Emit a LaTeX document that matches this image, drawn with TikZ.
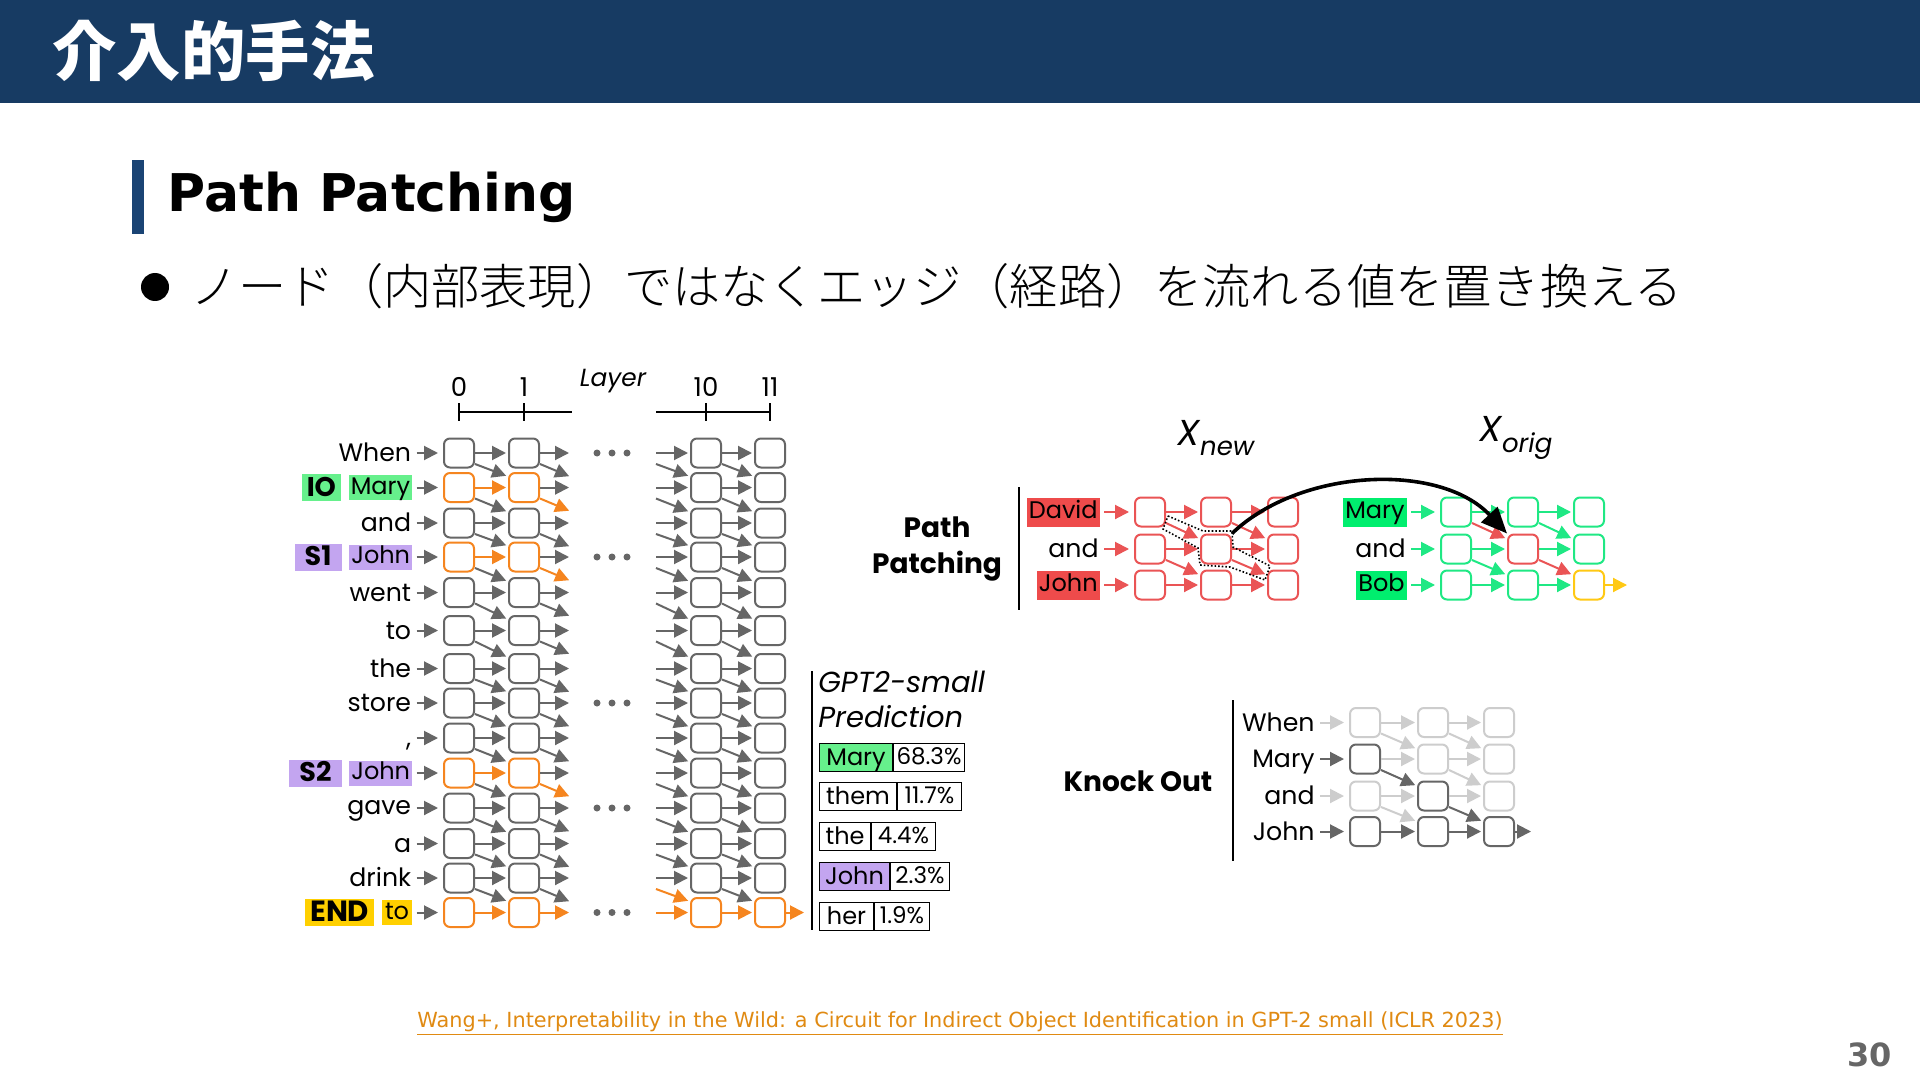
\documentclass[tikz,border=0pt]{standalone}
\usepackage{fontspec}
\setmainfont{Poppins}
\newfontfamily\cjkfont{Noto Sans CJK JP}
\newfontfamily\cjklight{Noto Sans CJK JP Light}
\newfontfamily\slidefont{DejaVu Sans}
\usetikzlibrary{arrows.meta,positioning}
\definecolor{barblue}{HTML}{173B63}
\definecolor{accentblue}{HTML}{1A4474}
\definecolor{netgray}{HTML}{666666}
\definecolor{netlight}{HTML}{CDCDCD}
\definecolor{netorange}{HTML}{F5851F}
\definecolor{netred}{HTML}{EA5455}
\definecolor{netgreen}{HTML}{1FE884}
\definecolor{netyellow}{HTML}{FFC914}
\definecolor{tintgreen}{HTML}{66F08C}
\definecolor{tintpurple}{HTML}{C3A5F0}
\definecolor{tintyellow}{HTML}{FFD000}
\definecolor{tintred}{HTML}{EE4B4B}
\definecolor{tintmint}{HTML}{00EE6E}
\definecolor{linkorange}{HTML}{E08A12}
\tikzset{
  cell/.style={draw=#1,rounded corners=3pt,minimum width=15pt,minimum height=14.5pt,inner sep=0pt,line width=1pt},
  flow/.style={draw=#1,line width=1pt,-{Triangle[length=7pt,width=7pt]},shorten >=1pt},
  word/.style={fill=#1,anchor=east,inner xsep=1pt,inner ysep=0pt,text height=9.5pt,text depth=3pt,font=\fontsize{12}{14}\selectfont},
  wordplain/.style={word=white,inner xsep=.5pt,text height=10.5pt,text depth=2pt,font=\fontsize{12.6}{14}\selectfont},
  wordhigh/.style={word=white,inner xsep=.5pt,font=\fontsize{12.6}{14}\selectfont},
  wordgreen/.style={word=tintgreen},
  wordpurple/.style={word=tintpurple},
  wordyellow/.style={word=tintyellow,inner xsep=1.5pt},
  wordred/.style={word=tintred,text height=10.5pt,text depth=4pt},
  wordmint/.style={word=tintmint,text height=10.5pt,text depth=4pt},
  tag/.style={fill=#1,inner xsep=2.5pt,inner ysep=0pt,text height=11pt,text depth=2.5pt,font=\fontsize{13.5}{15}\selectfont\bfseries},
  predname/.style={draw=black,line width=.5pt,fill=#1,inner sep=0pt,minimum height=14pt,text height=10pt,text depth=2pt,font=\fontsize{12}{14}\selectfont},
  predval/.style={draw=black,line width=.5pt,inner sep=0pt,minimum height=14pt,text height=8pt,text depth=1pt,font=\fontsize{11.5}{13}\selectfont},
  rowname/.style={font=\fontsize{14}{17.7}\selectfont\bfseries,align=center}
}
\begin{document}
\begin{tikzpicture}[x=0.5pt,y=-0.5pt]
\useasboundingbox (0,0) rectangle (1920,1080);
\fill[white] (0,0) rectangle (1920,1080);
\fill[barblue] (0,0) rectangle (1920,103);
\node[text=white,anchor=west,inner sep=0pt,font=\fontsize{32.2}{36}\selectfont\cjkfont\bfseries] (title) at (52,51) {介入的手法};
\fill[accentblue] (132,160) rectangle (144,234);
\node[anchor=west,inner sep=0pt,font=\fontsize{26}{32}\selectfont\slidefont\bfseries] (head) at (167,197) {Path Patching};
\fill (155,287) circle (14);
\node[anchor=west,inner sep=0pt,font=\fontsize{24.1}{28}\selectfont\cjklight] (bullet) at (190,286) {ノード（内部表現）ではなくエッジ（経路）を流れる値を置き換える};
\foreach \r/\y/\w/\wst/\hot/\last in {1/453/When/wordplain/netgray/netgray,2/487.5/Mary/wordgreen/netorange/netgray,3/523/and/wordplain/netgray/netgray,4/557/John/wordpurple/netorange/netgray,5/592.5/went/wordplain/netgray/netgray,6/630.5/to/wordplain/netgray/netgray,7/668.5/the/wordplain/netgray/netgray,8/703/store/wordplain/netgray/netgray,9/738/{,}/wordplain/netgray/netgray,10/773/John/wordpurple/netorange/netgray,11/808/gave/wordhigh/netgray/netgray,12/843.5/a/wordplain/netgray/netgray,13/878/drink/wordplain/netgray/netgray,14/912.5/to/wordyellow/netorange/netorange} {
  \node[cell=\hot] (a\r) at (459,\y) {};
  \node[cell=\hot] (b\r) at (524,\y) {};
  \node[cell=\last] (c\r) at (706,\y) {};
  \node[cell=\last] (d\r) at (770,\y) {};
  \node[\wst] (w\r) at (412.5,\y) {\w};
  \coordinate (fb\r) at (571,\y);
  \coordinate (hb\r) at (571,\y+24);
  \coordinate (fc\r) at (656,\y);
  \coordinate (hc\r) at (656,\y+11);
  \draw[flow=netgray,shorten <=2pt,shorten >=2.5pt] (w\r) -- (a\r);
  \draw[flow=\hot] (a\r) -- (b\r);
  \draw[flow=\last] (b\r) -- (fb\r);
  \draw[flow=\last] (fc\r) -- (c\r);
  \draw[flow=\last] (c\r) -- (d\r);
}
\foreach \r/\s/\hot/\inc in {1/2/netgray/netgray,2/3/netorange/netgray,3/4/netgray/netgray,4/5/netorange/netgray,5/6/netgray/netgray,6/7/netgray/netgray,7/8/netgray/netgray,8/9/netgray/netgray,9/10/netgray/netgray,10/11/netorange/netgray,11/12/netgray/netgray,12/13/netgray/netgray,13/14/netgray/netorange} {
  \draw[flow=netgray] ([yshift=-5.5pt]a\r.east) -- ([yshift=5.5pt]b\s.west);
  \draw[flow=\hot] ([yshift=-5.5pt]b\r.east) -- (hb\r);
  \draw[flow=\inc] (hc\r) -- ([yshift=5.5pt]c\s.west);
  \draw[flow=netgray] ([yshift=-5.5pt]c\r.east) -- ([yshift=5.5pt]d\s.west);
}
\coordinate (outend) at (806,912.5);
\draw[flow=netorange] (d14) -- (outend);
\node[tag=tintgreen,left=3.5pt of w2] (tagio) {IO};
\node[tag=tintpurple,inner xsep=5pt,left=3.5pt of w4] (tagsa) {S1};
\node[tag=tintpurple,inner xsep=5pt,left=3.5pt of w10] (tagsb) {S2};
\node[tag=tintyellow,inner xsep=2.5pt,font=\fontsize{14.6}{16}\selectfont\bfseries,left=3.5pt of w14] (tagend) {END};
\foreach \y in {453,557,703,808,912.5} \foreach \x in {597,612,627} \fill[netgray] (\x,\y) circle (3.5);
\coordinate (tick0) at (459,412);
\coordinate (tick1) at (524,412);
\coordinate (tick10) at (706,412);
\coordinate (tick11) at (770,412);
\coordinate (axisa) at (572,412);
\coordinate (axisb) at (656,412);
\draw[line width=.6pt] (tick0) -- (axisa);
\draw[line width=.6pt] (axisb) -- (tick11);
\foreach \t/\lab in {0/0,1/1,10/10,11/11} {
  \draw[line width=.6pt] ([yshift=4.5pt]tick\t) -- ([yshift=-4.5pt]tick\t);
  \node[inner sep=0pt,font=\fontsize{13}{15}\selectfont] (num\t) at ([yshift=12.5pt]tick\t) {\lab};
}
\node[font=\fontsize{12.4}{14}\selectfont\itshape,inner sep=0pt] (layer) at (613,381) {Layer};
\draw[line width=.9pt] (812,671) -- (812,930);
\node[anchor=west,inner sep=0pt,font=\fontsize{14.5}{16}\selectfont\itshape] (predtop) at (818,682) {GPT2-small};
\node[anchor=west,inner sep=0pt,font=\fontsize{14.5}{16}\selectfont\itshape] (predbot) at (818,717) {Prediction};
\foreach \n/\y/\lab/\val/\wa/\wb/\tint in {m/757/Mary/68.3/36.5/35.5/tintgreen,t/796.5/them/11.7/38.5/32/white,h/836/the/4.4/25.5/32/white,j/876/John/2.3/35/29.5/tintpurple,e/916.5/her/1.9/27/27.5/white} {
  \node[predname=\tint,anchor=west,minimum width=\wa pt] (pn\n) at (819,\y) {\lab};
  \node[predval,right=0pt of pn\n,minimum width=\wb pt] (pv\n) {\val\%};
}
\node[font=\fontsize{18}{20}\selectfont\itshape,inner sep=0pt] (xnew) at (1216,438) {X\raisebox{-.3em}{\fontsize{13}{15}\selectfont new}};
\node[font=\fontsize{18}{20}\selectfont\itshape,inner sep=0pt] (xorig) at (1516,438) {X\raisebox{-.3em}{\fontsize{13}{15}\selectfont orig}};
\node[rowname] (pathname) at (937,549) {Path\\Patching};
\draw[line width=.9pt] (1019,487) -- (1019,610);
\foreach \c/\x in {1/1150,2/1216,3/1283} \foreach \r/\y in {1/512,2/549,3/585} \node[cell=netred] (r\c\r) at (\x,\y) {};
\foreach \n/\x/\y/\tone in {g11/1456/512/netgreen,g12/1456/549/netgreen,g13/1456/585/netgreen,g21/1523/512/netgreen,g22/1523/549/netred,g23/1523/585/netgreen,g31/1589/512/netgreen,g32/1589/549/netgreen,g33/1589/585/netyellow} \node[cell=\tone] (\n) at (\x,\y) {};
\foreach \r/\y/\w/\wst in {1/512/David/wordred,2/549/and/wordplain,3/585/John/wordred} {
  \node[\wst] (wr\r) at (1100,\y) {\w};
  \draw[flow=netred,shorten <=2pt,shorten >=2.5pt] (wr\r) -- (r1\r);
}
\foreach \r/\y/\w/\wst in {1/512/Mary/wordmint,2/549/and/wordplain,3/585/Bob/wordmint} {
  \node[\wst] (wg\r) at (1407,\y) {\w};
  \draw[flow=netgreen,shorten <=2pt,shorten >=2.5pt] (wg\r) -- (g1\r);
}
\foreach \c/\d in {1/2,2/3} {
  \foreach \r in {1,2,3} \draw[flow=netred] (r\c\r) -- (r\d\r);
  \foreach \r/\s in {1/2,2/3} \draw[flow=netred] ([yshift=-5.5pt]r\c\r.east) -- ([yshift=5pt]r\d\s.west);
}
\foreach \p/\q/\tone in {g11/g21/netgreen,g12/g22/netgreen,g13/g23/netgreen,g21/g31/netgreen,g22/g32/netgreen,g23/g33/netgreen} \draw[flow=\tone] (\p) -- (\q);
\foreach \p/\q/\tone in {g11/g22/netred,g12/g23/netgreen,g21/g32/netgreen,g22/g33/netred} \draw[flow=\tone] ([yshift=-5.5pt]\p.east) -- ([yshift=5pt]\q.west);
\coordinate (yellowend) at (1629,585);
\draw[flow=netyellow] (g33) -- (yellowend);
\draw[densely dotted,line width=.8pt] (1168,516) -- (1203,531) -- (1232,531) -- (1233,547) -- (1270,566) -- (1265,580) -- (1230,567) -- (1200,565) -- (1198,548) -- (1163,529) -- cycle;
\draw[line width=1.8pt,-{Triangle[length=13pt,width=11pt]}] (r22.north east) .. controls (1300,468) and (1440,462) .. (g22.north west);
\node[rowname] (knockname) at (1138,781) {Knock Out};
\draw[line width=.9pt] (1233,700) -- (1233,861);
\foreach \n/\x/\y/\tone in {k11/1365/722.5/netlight,k12/1365/759/netgray,k13/1365/796/netlight,k14/1365/831.5/netgray,k21/1433/722.5/netlight,k22/1433/759/netlight,k23/1433/796/netgray,k24/1433/831.5/netgray,k31/1499/722.5/netlight,k32/1499/759/netlight,k33/1499/796/netlight,k34/1499/831.5/netgray} \node[cell=\tone] (\n) at (\x,\y) {};
\foreach \r/\y/\w/\tone in {1/722.5/When/netlight,2/759/Mary/netgray,3/796/and/netlight,4/831.5/John/netgray} {
  \node[wordplain] (wk\r) at (1316,\y) {\w};
  \draw[flow=\tone,shorten <=2pt,shorten >=2.5pt] (wk\r) -- (k1\r);
}
\foreach \p/\q in {k11/k21,k12/k22,k13/k23,k21/k31,k22/k32,k23/k33} \draw[flow=netlight] (\p) -- (\q);
\foreach \p/\q in {k11/k22,k13/k24,k21/k32,k22/k33} \draw[flow=netlight] ([yshift=-5.5pt]\p.east) -- ([yshift=5pt]\q.west);
\foreach \p/\q in {k14/k24,k24/k34} \draw[flow=netgray] (\p) -- (\q);
\foreach \p/\q in {k12/k23,k23/k34} \draw[flow=netgray] ([yshift=-5.5pt]\p.east) -- ([yshift=5pt]\q.west);
\coordinate (grayend) at (1533,831.5);
\draw[flow=netgray] (k34) -- (grayend);
\node[text=linkorange,inner sep=0pt,font=\fontsize{10.4}{12}\selectfont\slidefont] (source) at (960,1024) {\underline{Wang+, Interpretability in the Wild: a Circuit for Indirect Object Identification in GPT-2 small (ICLR 2023)}};
\node[anchor=east,text=netgray,inner sep=0pt,font=\fontsize{16}{18}\selectfont\slidefont\bfseries] (pageno) at (1892,1055) {30};
\end{tikzpicture}
\end{document}
